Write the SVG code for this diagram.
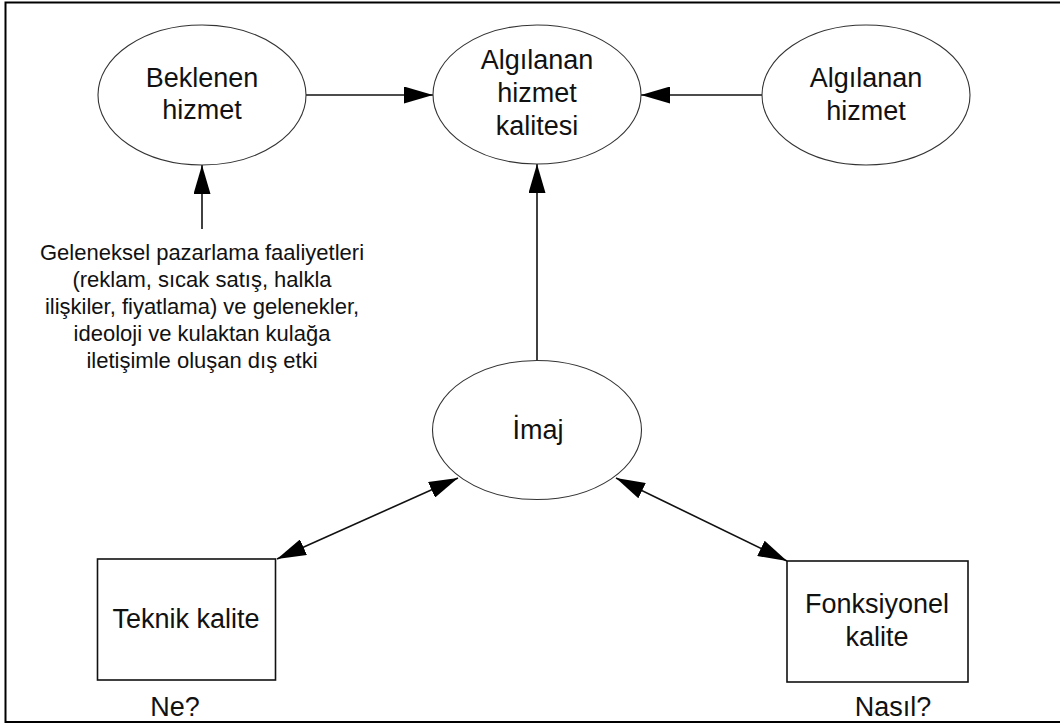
<svg xmlns="http://www.w3.org/2000/svg" width="1060" height="726" viewBox="0 0 1060 726">
<style>
.node{fill:#fff;stroke:#333;stroke-width:1.1}
.box{fill:#fff;stroke:#111;stroke-width:1.6}
.t{font-family:"Liberation Sans",Arial,sans-serif;font-size:27px;fill:#111;text-anchor:middle}
.s{font-family:"Liberation Sans",Arial,sans-serif;font-size:22px;fill:#111;text-anchor:middle}
.c{stroke:#111;stroke-width:1.6;fill:none}
</style>
<defs>
<marker id="ah" markerUnits="userSpaceOnUse" markerWidth="29" markerHeight="17" refX="29" refY="8.5" orient="auto-start-reverse">
<path d="M0,0 L29,8.5 L0,17 z" fill="#000"/>
</marker>
</defs>
<rect x="5.5" y="2.5" width="1060" height="719.5" fill="#fff" stroke="#000" stroke-width="2"/>
<g id="connectors">
<line class="c" x1="306" y1="95" x2="433" y2="95" marker-end="url(#ah)"/>
<line class="c" x1="762" y1="95" x2="641" y2="95" marker-end="url(#ah)"/>
<line class="c" x1="202" y1="229" x2="202" y2="165" marker-end="url(#ah)"/>
<line class="c" x1="537" y1="361" x2="537" y2="164" marker-end="url(#ah)"/>
<line class="c" x1="277" y1="559" x2="458" y2="478" marker-start="url(#ah)" marker-end="url(#ah)"/>
<line class="c" x1="616" y1="478" x2="787" y2="561" marker-start="url(#ah)" marker-end="url(#ah)"/>
</g>
<g id="beklenen">
<ellipse class="node" cx="202" cy="95" rx="104" ry="70"/>
<text class="t" x="202" y="87">Beklenen</text>
<text class="t" x="202" y="119">hizmet</text>
</g>
<g id="algilanan-kalite">
<ellipse class="node" cx="537" cy="94.5" rx="104" ry="69.5"/>
<text class="t" x="537" y="69">Algılanan</text>
<text class="t" x="537" y="102">hizmet</text>
<text class="t" x="537" y="135">kalitesi</text>
</g>
<g id="algilanan-hizmet">
<ellipse class="node" cx="866" cy="95" rx="104" ry="70"/>
<text class="t" x="866" y="87">Algılanan</text>
<text class="t" x="866" y="120">hizmet</text>
</g>
<g id="dis-etki">
<text class="s" x="202" y="260">Geleneksel pazarlama faaliyetleri</text>
<text class="s" x="202" y="287">(reklam, sıcak satış, halkla</text>
<text class="s" x="202" y="314">ilişkiler, fiyatlama) ve gelenekler,</text>
<text class="s" x="202" y="341">ideoloji ve kulaktan kulağa</text>
<text class="s" x="202" y="368">iletişimle oluşan dış etki</text>
</g>
<g id="imaj">
<ellipse class="node" cx="537" cy="430" rx="104.5" ry="69.5"/>
<text class="t" x="538" y="439">İmaj</text>
</g>
<g id="teknik">
<rect class="box" x="97.5" y="559" width="178" height="121"/>
<text class="t" x="186" y="628">Teknik kalite</text>
<text class="t" x="175" y="716">Ne?</text>
</g>
<g id="fonksiyonel">
<rect class="box" x="787" y="561" width="181" height="121"/>
<text class="t" x="877" y="613">Fonksiyonel</text>
<text class="t" x="877" y="646">kalite</text>
<text class="t" x="893" y="716">Nasıl?</text>
</g>
</svg>
